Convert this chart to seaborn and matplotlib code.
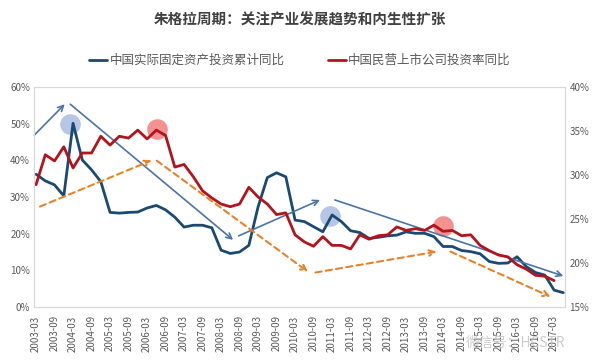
import numpy as np
import pandas as pd
import matplotlib
matplotlib.use("Agg")
import matplotlib.pyplot as plt
import seaborn as sns

# quarterly observations, 2003-03 .. 2017-06
quarters = [f"{y}-{m:02d}" for y in range(2003, 2018) for m in (3, 6, 9, 12)][:58]

# 中国实际固定资产投资累计同比 (left axis, %)
fai_real = [36.2, 34.4, 33.3, 30.3, 50.1, 40.1, 37.4, 34.2, 25.8, 25.6,
            25.8, 25.9, 27.0, 27.7, 26.5, 24.5, 21.8, 22.3, 22.3, 21.6,
            15.5, 14.6, 15.0, 16.8, 27.3, 35.3, 36.6, 35.5, 23.7, 23.3,
            21.9, 20.5, 25.1, 23.3, 20.8, 20.3, 18.7, 19.0, 19.4, 19.6,
            20.5, 20.1, 20.1, 19.2, 16.5, 16.5, 15.4, 15.1, 14.5, 12.4,
            11.9, 12.0, 13.7, 11.0, 9.4, 8.7, 4.6, 3.9]

# 中国民营上市公司投资率同比 (right axis, %)
private_inv = [28.9, 32.3, 31.6, 33.2, 30.8, 32.5, 32.5, 34.4, 33.4, 34.4,
               34.2, 35.1, 34.1, 35.1, 34.5, 30.9, 31.2, 29.8, 28.2, 27.4,
               26.7, 26.4, 26.7, 28.6, 27.5, 26.7, 25.5, 25.7, 23.2, 22.4,
               21.9, 23.0, 22.0, 22.0, 21.6, 23.2, 22.7, 23.1, 23.2, 24.1,
               23.7, 23.9, 23.7, 24.3, 23.6, 23.7, 23.1, 23.2, 22.0, 21.4,
               20.9, 20.7, 19.8, 19.3, 18.6, 18.5, 18.0]

label_blue = "中国实际固定资产投资累计同比"
label_red = "中国民营上市公司投资率同比"

df_blue = pd.DataFrame({"idx": np.arange(len(fai_real)), "v": fai_real})
df_red = pd.DataFrame({"idx": np.arange(len(private_inv)), "v": private_inv})

sns.set_style("white")
plt.rcParams["font.family"] = ["Noto Sans CJK SC", "DejaVu Sans"]

BLUE = "#1a4a73"
RED = "#b3141c"
ORANGE = "#e8822a"
ARROW = "#4a74a8"
GREY = "#595959"

fig = plt.figure(figsize=(6, 3.61), dpi=100)
ax = fig.add_axes([0.057, 0.1496, 0.885, 0.6094])
ax2 = ax.twinx()

sns.lineplot(data=df_blue, x="idx", y="v", ax=ax, color=BLUE, lw=2, label=label_blue, legend=False)
sns.lineplot(data=df_red, x="idx", y="v", ax=ax2, color=RED, lw=2, label=label_red, legend=False)

ax.set_xlim(-0.2, 57.2)
ax.set_ylim(0, 60)
ax2.set_ylim(15, 40)
ax.set_yticks(range(0, 61, 10))
ax.set_yticklabels([f"{t}%" for t in range(0, 61, 10)])
ax2.set_yticks(range(15, 41, 5))
ax2.set_yticklabels([f"{t}%" for t in range(15, 41, 5)])
ticks = list(range(0, 57, 2))
ax.set_xticks(ticks)
ax.set_xticklabels([quarters[i] for i in ticks], rotation=90)
for a in (ax, ax2):
    a.set_xlabel("")
    a.set_ylabel("")
    a.tick_params(axis="both", labelsize=7, colors=GREY, length=0, pad=3)
    for s in a.spines.values():
        s.set_color("#d9d9d9")
        s.set_linewidth(0.8)
ax.tick_params(axis="x", length=3, color="#d9d9d9")

# highlight circles
ax.scatter([3.7, 31.8], [49.8, 24.8], s=220, color="#a8bde0", alpha=0.85, zorder=1, lw=0)
ax.scatter([13.05, 44.0], [48.5, 22.2], s=220, color="#f37f7f", alpha=0.85, zorder=1, lw=0)

# trend arrows
blue_arrows = [((-0.18, 46.9), (3.1, 55.3)), ((3.7, 55.3), (21.3, 18.3)),
               ((21.9, 19.4), (30.7, 29.2)), ((32.3, 29.2), (57.0, 8.45))]
orange_arrows = [((0.43, 27.4), (12.5, 40.0)), ((13.05, 39.9), (29.4, 9.6)),
                 ((30.2, 9.4), (43.3, 15.1)), ((44.8, 15.1), (55.6, 2.8))]
for (x0, y0), (x1, y1) in blue_arrows:
    ax.annotate("", xy=(x1, y1), xytext=(x0, y0), annotation_clip=False,
                arrowprops=dict(arrowstyle="->", color=ARROW, lw=1.2, shrinkA=0, shrinkB=0))
for (x0, y0), (x1, y1) in orange_arrows:
    ax.annotate("", xy=(x1, y1), xytext=(x0, y0), annotation_clip=False,
                arrowprops=dict(arrowstyle="->", color=ORANGE, lw=1.5, ls=(0, (3, 2)),
                                shrinkA=0, shrinkB=0))

fig.text(0.5, 0.945, "朱格拉周期：关注产业发展趋势和内生性扩张", ha="center", va="center",
         fontsize=10.5, fontweight="bold", color="#404040")

h1, l1 = ax.get_lines()[0], label_blue
h2, l2 = ax2.get_lines()[0], label_red
fig.legend([h1, h2], [l1, l2], loc="center", bbox_to_anchor=(0.5, 0.832), ncol=2,
           frameon=False, fontsize=9, handlelength=1.4, handletextpad=0.2,
           columnspacing=3.5, labelcolor=GREY)

fig.text(0.86, 0.05, "微信号：HCSTR", ha="center", va="center", fontsize=10,
         color="#bfbfbf", alpha=0.8)

fig.savefig("out.png", dpi=100)
